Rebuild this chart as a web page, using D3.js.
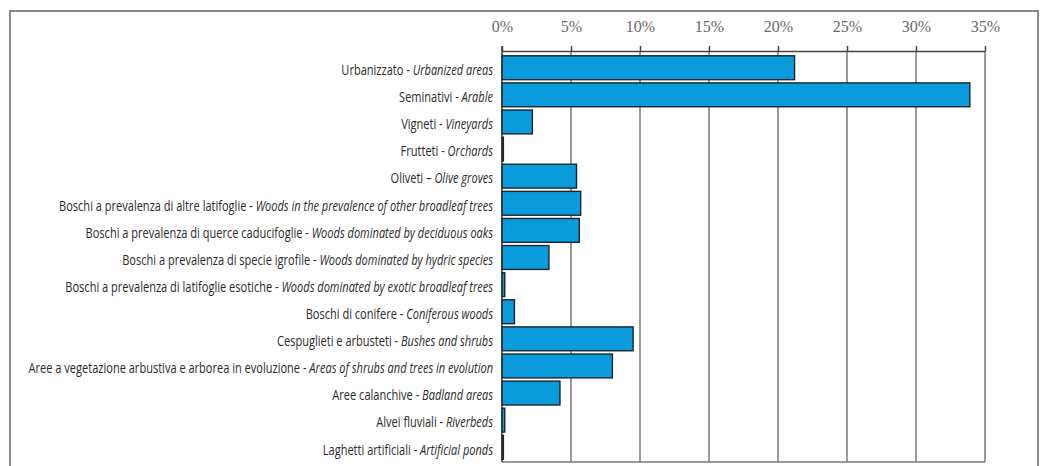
<!DOCTYPE html>
<html>
<head>
<meta charset="utf-8">
<script src="https://cdn.jsdelivr.net/npm/d3@7"></script>
<style>
  html, body { margin: 0; padding: 0; background: #fff; }
  svg { display: block; }
</style>
</head>
<body>
<svg id="chart" width="1041" height="466"></svg>
<script>
"use strict";

// categorie (italiano / inglese) e quota di superficie in %
const itNames = [
  "Urbanizzato", "Seminativi", "Vigneti", "Frutteti", "Oliveti",
  "Boschi a prevalenza di altre latifoglie",
  "Boschi a prevalenza di querce caducifoglie",
  "Boschi a prevalenza di specie igrofile",
  "Boschi a prevalenza di latifoglie esotiche",
  "Boschi di conifere", "Cespuglieti e arbusteti",
  "Aree a vegetazione arbustiva e arborea in evoluzione",
  "Aree calanchive", "Alvei fluviali", "Laghetti artificiali"
];
const enNames = [
  "Urbanized areas", "Arable", "Vineyards", "Orchards", "Olive groves",
  "Woods in the prevalence of other broadleaf trees",
  "Woods dominated by deciduous oaks",
  "Woods dominated by hydric species",
  "Woods dominated by exotic broadleaf trees",
  "Coniferous woods", "Bushes and shrubs",
  "Areas of shrubs and trees in evolution",
  "Badland areas", "Riverbeds", "Artificial ponds"
];
const separators = [" - ", " - ", " - ", " - ", " \u2013 ", " - ", " - ", " - ",
  " - ", " - ", " - ", " - ", " - ", " - ", " - "];
const shares = [21.2, 33.9, 2.2, 0.1, 5.4, 5.7, 5.6, 3.4, 0.2, 0.9, 9.5, 8.0, 4.2, 0.2, 0.1];
const tickValues = [0, 5, 10, 15, 20, 25, 30, 35];

const svg = d3.select("#chart");

// cornice esterna grigia
svg.append("rect")
  .attr("x", 10).attr("y", 11)
  .attr("width", 1028).attr("height", 480)
  .attr("fill", "none").attr("stroke", "#8a8a8a").attr("stroke-width", 2);

const x = d3.scaleLinear().domain([0, 35]).range([502, 985]);
const y = d3.scaleBand()
  .domain(d3.range(shares.length))
  .range([52, 463])
  .paddingInner(0.12)
  .paddingOuter(0.14);

// griglia verticale
svg.append("g")
  .selectAll("line")
  .data(tickValues.slice(1))
  .join("line")
  .attr("x1", (d) => x(d)).attr("x2", (d) => x(d))
  .attr("y1", 51).attr("y2", 462)
  .attr("stroke", "#7a7a7a").attr("stroke-width", 1.5);

// linea di base in fondo
svg.append("line")
  .attr("x1", x(0)).attr("x2", x(35))
  .attr("y1", 462).attr("y2", 462)
  .attr("stroke", "#7a7a7a").attr("stroke-width", 1.5);

// asse superiore
const axis = svg.append("g")
  .attr("transform", "translate(0,51)")
  .call(d3.axisTop(x).tickValues(tickValues).tickSize(5).tickSizeOuter(0)
    .tickFormat((d) => d + "%"));
axis.select(".domain").attr("stroke", "#444").attr("stroke-width", 1.5);
axis.selectAll(".tick line").attr("stroke", "#444").attr("stroke-width", 1.5);
axis.selectAll(".tick text")
  .attr("y", -19)
  .attr("fill", "#6a6a6a")
  .style("font-family", "'Liberation Serif', 'DejaVu Serif', serif")
  .style("font-size", "16px");

// barre
svg.append("g")
  .selectAll("rect")
  .data(shares)
  .join("rect")
  .attr("x", x(0))
  .attr("y", (d, i) => y(i))
  .attr("width", (d) => Math.max(x(d) - x(0), 1))
  .attr("height", y.bandwidth())
  .attr("fill", "#0a9bdc")
  .attr("stroke", "#1a252d")
  .attr("stroke-width", 1.4);

// asse verticale
svg.append("line")
  .attr("x1", x(0)).attr("x2", x(0))
  .attr("y1", 46).attr("y2", 462)
  .attr("stroke", "#333").attr("stroke-width", 1.5);

// etichette: parte italiana dritta, parte inglese in corsivo
const labelG = svg.append("g");
const labels = labelG.selectAll("text")
  .data(shares)
  .join("text")
  .attr("x", 0)
  .attr("y", (d, i) => y(i) + y.bandwidth() / 2 + 2)
  .attr("dy", "0.35em")
  .attr("text-anchor", "end")
  .attr("fill", "#2b2b2b")
  .style("font-family", "'Open Sans', sans-serif")
  .style("font-size", "15px");
labels.append("tspan").text((d, i) => itNames[i] + separators[i]);
labels.append("tspan").style("font-style", "italic").text((d, i) => enNames[i]);

// font condensato: comprimo orizzontalmente per avere la larghezza dell'originale
const widest = d3.max(labels.nodes(), (n) => n.getComputedTextLength());
const sx = 465 / widest;
labelG.attr("transform", `translate(493,0) scale(${sx},1)`);
</script>
</body>
</html>
